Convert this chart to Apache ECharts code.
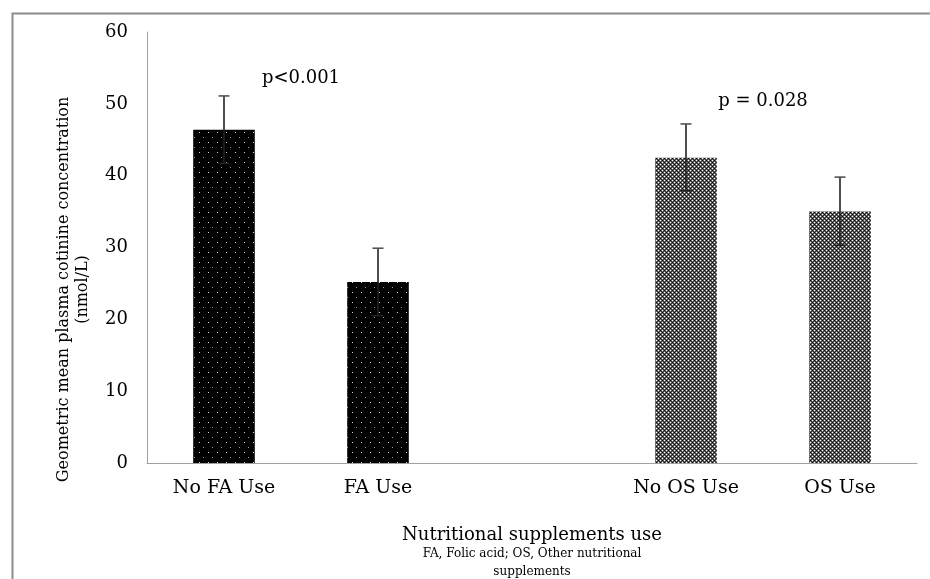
<!DOCTYPE html>
<html>
<head>
<meta charset="utf-8">
<script src="https://cdn.jsdelivr.net/npm/echarts@6/dist/echarts.min.js"></script>
<style>
html,body{margin:0;padding:0;background:#fff;}
#chart{width:930px;height:579px;}
</style>
</head>
<body>
<div id="chart"></div>
<script>
// ---- data ----
const categories = ['No FA Use', 'FA Use', '', 'No OS Use', 'OS Use'];
const meanValues = [46.4, 25.2, '-', 42.5, 35.0];
const errorHigh = [51.1, 29.9, '-', 47.2, 39.8];
const errorLow = [41.7, 20.5, '-', 37.9, 30.3];
const yTicks = [0, 10, 20, 30, 40, 50, 60];
// p-value annotations: [first category index, second category index, y value, text]
const pValues = [
  [0, 1, 53.6, 'p<0.001'],
  [3, 4, 50.3, 'p = 0.028']
];
const yTitle = ['Geometric mean plasma cotinine concentration', '(nmol/L)'];
const xTitle = 'Nutritional supplements use';
const xNote = ['FA, Folic acid; OS, Other nutritional', 'supplements'];

// ---- patterns ----
function makePattern(w, h, bg, pixels) {
  const c = document.createElement('canvas');
  c.width = w; c.height = h;
  const ctx = c.getContext('2d');
  ctx.fillStyle = bg; ctx.fillRect(0, 0, w, h);
  pixels.forEach(p => { ctx.fillStyle = p[2]; ctx.fillRect(p[0], p[1], 1, 1); });
  return { image: c, repeat: 'repeat' };
}
const dotPattern = makePattern(9, 10, '#000', [[1, 2, '#d8d8d8'], [5, 7, '#9a9a9a']]);
const W = '#ffffff', G = '#6a6a6a', B = '#000000', D = '#333333';
const checkRows = [[W, G, B, G], [G, D, G, D], [B, G, W, G], [G, D, G, D]];
const checkPixels = [];
checkRows.forEach((row, y) => row.forEach((col, x) => checkPixels.push([x, y, col])));
const checkPattern = makePattern(4, 4, G, checkPixels);
const barFills = [dotPattern, dotPattern, dotPattern, checkPattern, checkPattern];

const chart = echarts.init(document.getElementById('chart'), null, { renderer: 'canvas' });
const serif = 'DejaVu Serif';

const option = {
  animation: false,
  backgroundColor: '#fff',
  graphic: [{
    type: 'rect', left: 10, top: 11,
    shape: { width: 940, height: 600 },
    style: { fill: null, stroke: '#8c8c8c', lineWidth: 2 },
    silent: true
  }],
  grid: { left: 147, right: 13, top: 32, bottom: 116, outerBoundsMode: 'none', containLabel: false },
  xAxis: {
    type: 'category',
    data: categories,
    axisLine: { lineStyle: { color: '#a0a0a0', width: 1 } },
    axisTick: { show: false },
    axisLabel: { interval: 0, margin: 16, color: '#000', fontFamily: serif, fontSize: 19 },
    name: '{a|' + xTitle + '}\n{b|' + xNote[0] + '}\n{b|' + xNote[1] + '}',
    nameLocation: 'middle',
    nameGap: 62,
    nameTextStyle: {
      rich: {
        a: { fontFamily: serif, fontSize: 18, color: '#000', lineHeight: 20, align: 'center' },
        b: { fontFamily: serif, fontSize: 12, color: '#000', lineHeight: 18, align: 'center' }
      }
    }
  },
  yAxis: {
    type: 'value',
    min: yTicks[0], max: yTicks[yTicks.length - 1], interval: 10,
    axisLine: { show: true, lineStyle: { color: '#a0a0a0', width: 1 } },
    axisTick: { show: false },
    splitLine: { show: false },
    axisLabel: { margin: 19, color: '#000', fontFamily: serif, fontSize: 18 },
    name: yTitle.join('\n'),
    nameLocation: 'middle',
    nameRotate: 90,
    nameGap: 55,
    nameTextStyle: { fontFamily: serif, fontSize: 16, color: '#000', lineHeight: 19, align: 'center', padding: [0, 84, 0, 0] }
  },
  series: [
    {
      type: 'bar',
      barWidth: '40%',
      data: meanValues.map((v, i) => ({ value: v, itemStyle: { color: barFills[i] } })),
      z: 2
    },
    {
      type: 'custom',
      z: 3,
      data: categories.map((c, i) => [i, errorLow[i], errorHigh[i]]).filter(d => d[1] !== '-'),
      renderItem: function (params, api) {
        const x = api.value(0);
        const lo = api.coord([x, api.value(1)]);
        const hi = api.coord([x, api.value(2)]);
        const hw = 5.5;
        const st = { stroke: '#222', lineWidth: 1.6 };
        return {
          type: 'group',
          children: [
            { type: 'line', shape: { x1: hi[0], y1: hi[1], x2: lo[0], y2: lo[1] }, style: st },
            { type: 'line', shape: { x1: hi[0] - hw, y1: hi[1], x2: hi[0] + hw, y2: hi[1] }, style: { stroke: '#555', lineWidth: 1.6 } },
            { type: 'line', shape: { x1: lo[0] - hw, y1: lo[1], x2: lo[0] + hw, y2: lo[1] }, style: st }
          ]
        };
      }
    },
    {
      type: 'custom',
      z: 4,
      data: pValues,
      renderItem: function (params, api) {
        const a = api.coord([api.value(0), api.value(2)]);
        const b = api.coord([api.value(1), api.value(2)]);
        return {
          type: 'text',
          x: (a[0] + b[0]) / 2,
          y: a[1],
          style: {
            text: pValues[params.dataIndex][3],
            fontFamily: serif, fontSize: 18, fill: '#000',
            align: 'center', verticalAlign: 'middle'
          }
        };
      }
    }
  ]
};
chart.setOption(option);
</script>
</body>
</html>
